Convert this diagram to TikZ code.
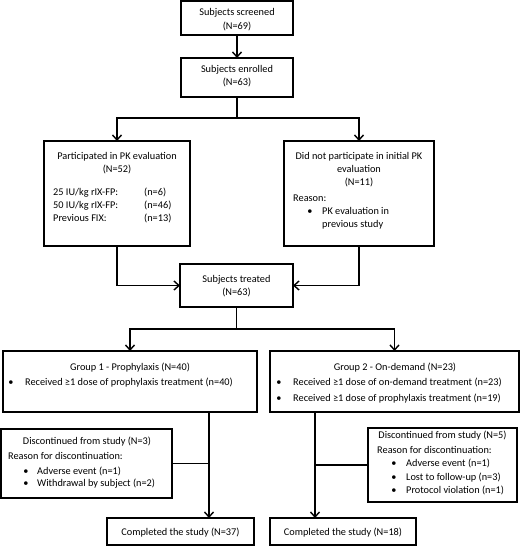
\documentclass[tikz,border=0pt]{standalone}
\usepackage{fontspec}
\setmainfont{Carlito}
\usetikzlibrary{arrows.meta}
\begin{document}
\begin{tikzpicture}[x=1pt,y=-1pt,
  box/.style={draw=black,line width=1.1pt,inner sep=0pt,outer sep=0pt},
  conn/.style={draw=black,line width=1.8pt},
  arr/.style={conn,-{Straight Barb[length=5pt,width=9pt,line width=1.4pt]}},
  txt/.style={inner sep=0pt,anchor=base,font=\fontsize{10.3}{12}\selectfont},
  ltxt/.style={txt,anchor=base west}]
\useasboundingbox (0,0) rectangle (520,546);
\fill[white] (0,0) rectangle (520,546);
% boxes
\node[box,minimum width=112pt,minimum height=34pt] (screen) at (237,18) {};
\node[box,minimum width=112pt,minimum height=39pt] (enroll) at (237,77.5) {};
\node[box,minimum width=146pt,minimum height=105pt] (pk) at (117,193.5) {};
\node[box,minimum width=150pt,minimum height=105pt] (dnp) at (359,193.5) {};
\node[box,minimum width=113pt,minimum height=43pt] (treat) at (236.5,285.5) {};
\node[box,minimum width=254pt,minimum height=61pt] (g1) at (130,381.5) {};
\node[box,minimum width=249pt,minimum height=61pt] (g2) at (394.5,381.5) {};
\node[box,minimum width=171pt,minimum height=69pt] (d1) at (86.5,463.5) {};
\node[box,minimum width=149pt,minimum height=74pt] (d2) at (442.5,465) {};
\node[box,minimum width=147pt,minimum height=27pt] (c1) at (180.5,531.5) {};
\node[box,minimum width=146pt,minimum height=27pt] (c2) at (343,531.5) {};
% texts
\node[txt] (t1a) at (237,16) {Subjects screened};
\node[txt] (t1b) at (237,29) {(N=69)};
\node[txt] (t2a) at (237,72.5) {Subjects enrolled};
\node[txt] (t2b) at (237,85.5) {(N=63)};
\node[txt] (t3a) at (117,159.5) {Participated in PK evaluation};
\node[txt] (t3b) at (117,172.5) {(N=52)};
\node[ltxt] (t3c) at (53,195.5) {25 IU/kg rIX-FP:};
\node[ltxt] (t3d) at (53,208.5) {50 IU/kg rIX-FP:};
\node[ltxt] (t3e) at (53,221.5) {Previous FIX:};
\node[ltxt] (t3f) at (144,195.5) {(n=6)};
\node[ltxt] (t3g) at (144,208.5) {(n=46)};
\node[ltxt] (t3h) at (144,221.5) {(n=13)};
\node[txt] (t4a) at (359,159.5) {Did not participate in initial PK};
\node[txt] (t4b) at (359,172.5) {evaluation};
\node[txt] (t4c) at (359,185.5) {(N=11)};
\node[ltxt] (t4d) at (293,201.5) {Reason:};
\node[txt] (t4e) at (310,214.5) {•};
\node[ltxt] (t4f) at (322,214.5) {PK evaluation in};
\node[ltxt] (t4g) at (322,227.5) {previous study};
\node[txt] (t5a) at (236.5,282.5) {Subjects treated};
\node[txt] (t5b) at (236.5,295.5) {(N=63)};
\node[txt] (t6a) at (130,370) {Group 1 - Prophylaxis (N=40)};
\node[txt] (t6b) at (11,385) {•};
\node[ltxt] (t6c) at (25,385) {Received ≥1 dose of prophylaxis treatment (n=40)};
\node[txt] (t7a) at (395,370) {Group 2 - On-demand (N=23)};
\node[txt] (t7b) at (279,385) {•};
\node[ltxt] (t7c) at (293,385) {Received ≥1 dose of on-demand treatment (n=23)};
\node[txt] (t7d) at (279,401) {•};
\node[ltxt] (t7e) at (293,401) {Received ≥1 dose of prophylaxis treatment (n=19)};
\node[txt] (t8a) at (87,444.5) {Discontinued from study (N=3)};
\node[ltxt] (t8b) at (8,459.5) {Reason for discontinuation:};
\node[txt] (t8c) at (26,474.5) {•};
\node[ltxt] (t8d) at (37,474.5) {Adverse event (n=1)};
\node[txt] (t8e) at (26,486.5) {•};
\node[ltxt] (t8f) at (37,486.5) {Withdrawal by subject (n=2)};
\node[txt] (t9a) at (442.5,438.5) {Discontinued from study (N=5)};
\node[ltxt] (t9b) at (377,453.5) {Reason for discontinuation:};
\node[txt] (t9c) at (394,466.5) {•};
\node[ltxt] (t9d) at (406,466.5) {Adverse event (n=1)};
\node[txt] (t9e) at (394,480.5) {•};
\node[ltxt] (t9f) at (406,480.5) {Lost to follow-up (n=3)};
\node[txt] (t9g) at (394,493.5) {•};
\node[ltxt] (t9h) at (406,493.5) {Protocol violation (n=1)};
\node[txt] (t10) at (180.5,535.5) {Completed the study (N=37)};
\node[txt] (t11) at (343,535.5) {Completed the study (N=18)};
% connectors
\coordinate (j1) at (237,118);
\coordinate (j2) at (236.5,329);
\coordinate (v1) at (209,0);
\coordinate (v2) at (315,0);
\draw[arr] (screen.south) -- (enroll.north);
\draw[conn] (enroll.south) -- (j1);
\draw[arr] (j1) -| (pk.north);
\draw[arr] (j1) -| (dnp.north);
\draw[arr] (pk.south) |- (treat.west);
\draw[arr] (dnp.south) |- (treat.east);
\draw[conn] (treat.south) -- (j2);
\draw[arr] (j2) -| (g1.north);
\draw[arr] (j2) -| (g2.north);
\draw[arr] (g1.south -| v1) -- (c1.north -| v1);
\draw[arr] (g2.south -| v2) -- (c2.north -| v2);
\draw[conn] (d1.east) -- (d1.east -| v1);
\draw[conn] (d2.west) -- (d2.west -| v2);
\end{tikzpicture}
\end{document}
